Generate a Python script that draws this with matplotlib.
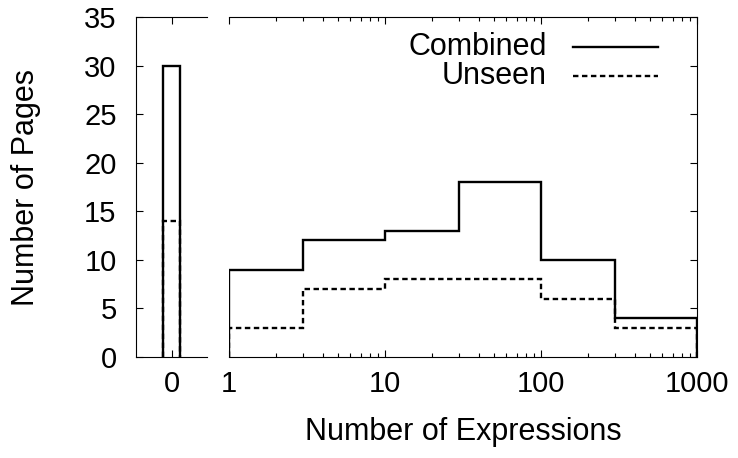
import matplotlib as mpl
mpl.use('Agg')
import matplotlib.pyplot as plt
from matplotlib.ticker import FixedLocator, NullFormatter

plt.rcParams['font.family'] = 'Liberation Sans'
plt.rcParams['font.size'] = 21

# histogram data (histeps)
zero_value_combined = 30
zero_value_unseen = 14
bin_edges = [1, 3, 10, 30, 100, 300, 1000]
combined = [9, 12, 13, 18, 10, 4]
unseen = [3, 7, 8, 8, 6, 3]
series_labels = ['Combined', 'Unseen']

W, H = 738, 458
fig = plt.figure(figsize=(W / 100, H / 100), dpi=100)

y0, y1 = 357, 17
def frame(x0, x1):
    return [x0 / W, (H - y0) / H, (x1 - x0) / W, (y0 - y1) / H]

dash = (0, (2.3, 1.5))
lw = 1.7

# left panel: zero bin
ax0 = fig.add_axes(frame(136, 207))
ax0.stairs([zero_value_combined], [-0.25, 0.25], color='black', lw=lw, baseline=0)
ax0.stairs([zero_value_unseen], [-0.25, 0.25], color='black', lw=lw, linestyle=dash, baseline=0)
ax0.set_xlim(-1, 1)
ax0.set_ylim(0, 35)
ax0.set_xticks([0])
ax0.set_yticks(range(0, 36, 5))
ax0.spines['right'].set_visible(False)
ax0.tick_params(direction='in', length=5, width=0.8, top=True, pad=9)
ax0.tick_params(axis='y', pad=14)
ax0.set_ylabel('Number of Pages', fontsize=22, labelpad=31)

# right panel: log bins
ax1 = fig.add_axes(frame(229, 697))
ax1.stairs(combined, bin_edges, color='black', lw=lw, baseline=0)
ax1.stairs(unseen, bin_edges, color='black', lw=lw, linestyle=dash, baseline=0)
ax1.set_xscale('log')
ax1.set_xlim(1, 1000)
ax1.set_ylim(0, 35)
ax1.set_xticks([1, 10, 100, 1000])
ax1.set_xticklabels(['1', '10', '100', '1000'])
ax1.xaxis.set_minor_locator(FixedLocator([m * d for d in (1, 10, 100) for m in range(2, 10)]))
ax1.xaxis.set_minor_formatter(NullFormatter())
ax1.set_yticks(range(0, 36, 5))
ax1.spines['left'].set_visible(False)
ax1.tick_params(which='major', direction='in', length=5, width=0.8, top=True, pad=9)
ax1.tick_params(which='minor', direction='in', length=2.8, width=0.8, top=True)
ax1.tick_params(axis='y', left=False, right=True, labelleft=False, labelright=False)
ax1.set_xlabel('Number of Expressions', fontsize=22, labelpad=14)

# gnuplot-style key: text right-aligned, sample line to its right
for label, style, ky in zip(series_labels, ['-', dash], [0.912, 0.826]):
    ax1.text(0.6795, ky, label, transform=ax1.transAxes, ha='right', va='center', fontsize=22)
    ax1.plot([0.735, 0.9167], [ky, ky], transform=ax1.transAxes, color='black',
             lw=lw, linestyle=style, clip_on=False)

for a in (ax0, ax1):
    for s in a.spines.values():
        s.set_linewidth(0.8)

fig.savefig('out.png', dpi=100)
